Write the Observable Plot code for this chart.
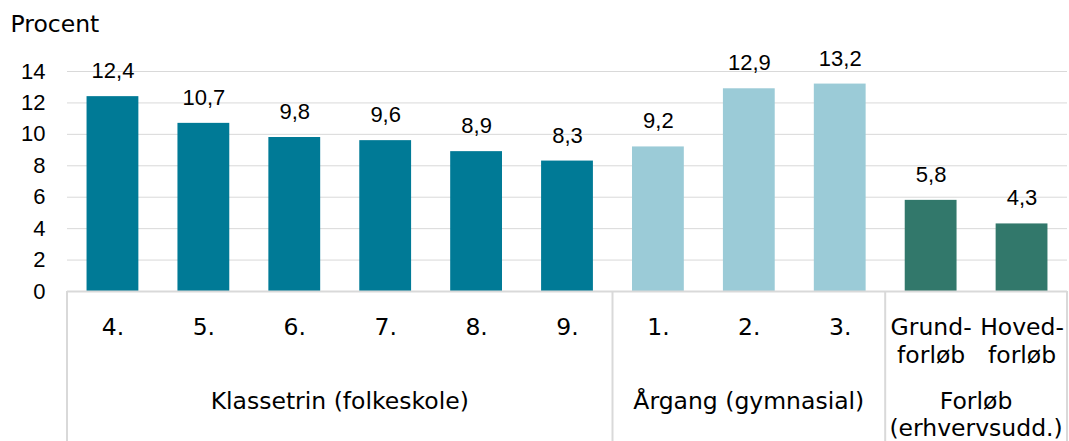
<!DOCTYPE html>
<html><head><meta charset="utf-8">
<script src="https://cdn.jsdelivr.net/npm/d3@7"></script>
<script src="https://cdn.jsdelivr.net/npm/@observablehq/plot@0.6"></script>
<style>body{margin:0;background:#fff;} svg{display:block}</style>
</head><body><div id="chart"></div>
<script>
const categories = ["4.", "5.", "6.", "7.", "8.", "9.", "1.", "2.", "3.", "Grund-\nforløb", "Hoved-\nforløb"];
const values = [12.4, 10.7, 9.8, 9.6, 8.9, 8.3, 9.2, 12.9, 13.2, 5.8, 4.3];
const groupOf = ["Klassetrin (folkeskole)", "Klassetrin (folkeskole)", "Klassetrin (folkeskole)", "Klassetrin (folkeskole)", "Klassetrin (folkeskole)", "Klassetrin (folkeskole)", "Årgang (gymnasial)", "Årgang (gymnasial)", "Årgang (gymnasial)", "Forløb\n(erhvervsudd.)", "Forløb\n(erhvervsudd.)"];
const groupNames = ["Klassetrin (folkeskole)", "Årgang (gymnasial)", "Forløb\n(erhvervsudd.)"];
const groupColors = ["#007A96", "#9BCBD7", "#32786B"];
const yTicks = [0, 2, 4, 6, 8, 10, 12, 14];
const yLabel = "Procent";

const data = categories.map((c, i) => ({cat: c, value: values[i], group: groupOf[i]}));
const fmt = v => v.toFixed(1).replace(".", ",");
const FONT = "DejaVu Sans";
const NUMFONT = "Liberation Sans";
const FS = 23.5;
const NFS = 22;

function groupDecor(index, scales, vals, dims) {
  const x = scales.x;
  const dom = x.domain();
  const bw = typeof x.bandwidth === "function" ? x.bandwidth() : x.bandwidth;
  const step = x(dom[1]) - x(dom[0]);
  const center = c => x(c) + bw / 2;
  const top = dims.height - dims.marginBottom;
  const g = d3.create("svg:g");
  const bounds = [];
  groupNames.forEach(name => {
    const cats = data.filter(d => d.group === name).map(d => d.cat);
    const x0 = center(cats[0]) - step / 2;
    const x1 = center(cats[cats.length - 1]) + step / 2;
    bounds.push(x0, x1);
    const t = g.append("text")
      .attr("x", (x0 + x1) / 2)
      .attr("y", 409)
      .attr("text-anchor", "middle")
      .attr("font-family", FONT)
      .attr("font-size", FS)
      .attr("fill", "#000");
    name.split("\n").forEach((line, j) => {
      t.append("tspan").attr("x", (x0 + x1) / 2).attr("dy", j === 0 ? 0 : 27).text(line);
    });
  });
  [...new Set(bounds.map(b => Math.round(b * 10) / 10))].forEach(b => {
    g.append("line")
      .attr("x1", b).attr("x2", b)
      .attr("y1", top).attr("y2", dims.height)
      .attr("stroke", "#d9d9d9").attr("stroke-width", 2);
  });
  return g.node();
}

const chart = Plot.plot({
  width: 1069,
  height: 441,
  marginLeft: 67,
  marginRight: 2,
  marginTop: 71,
  marginBottom: 150,
  style: {fontFamily: FONT, fontSize: FS + "px", color: "#000", background: "#fff"},
  x: {domain: categories, paddingInner: 0.43, paddingOuter: 0.215, align: 0.5, round: false, axis: null},
  y: {domain: [0, 14], axis: null},
  color: {domain: groupNames, range: groupColors},
  marks: [
    Plot.gridY(yTicks.slice(1), {stroke: "#d9d9d9", strokeOpacity: 1, strokeWidth: 1}),
    Plot.barY(data, {x: "cat", y: "value", fill: "group"}),
    Plot.ruleY([0], {stroke: "#d9d9d9", strokeWidth: 2}),
    Plot.axisY(yTicks, {tickSize: 0, tickPadding: 22, fontSize: NFS, fontFamily: NUMFONT, label: null, fill: "#000"}),
    Plot.text(data, {x: "cat", y: "value", text: d => fmt(d.value), dy: -25.5, fontSize: NFS, fontFamily: NUMFONT, fill: "#000"}),
    Plot.text(data, {x: "cat", text: "cat", frameAnchor: "bottom", lineAnchor: "top", dy: 24, lineHeight: 28 / FS, fontSize: FS, fill: "#000"}),
    Plot.text([yLabel], {frameAnchor: "top-left", text: d => d, dx: -57, dy: -47, textAnchor: "start", lineAnchor: "middle", fontSize: FS, fill: "#000"}),
    groupDecor
  ]
});
document.getElementById("chart").appendChild(chart);
</script>
</body></html>
